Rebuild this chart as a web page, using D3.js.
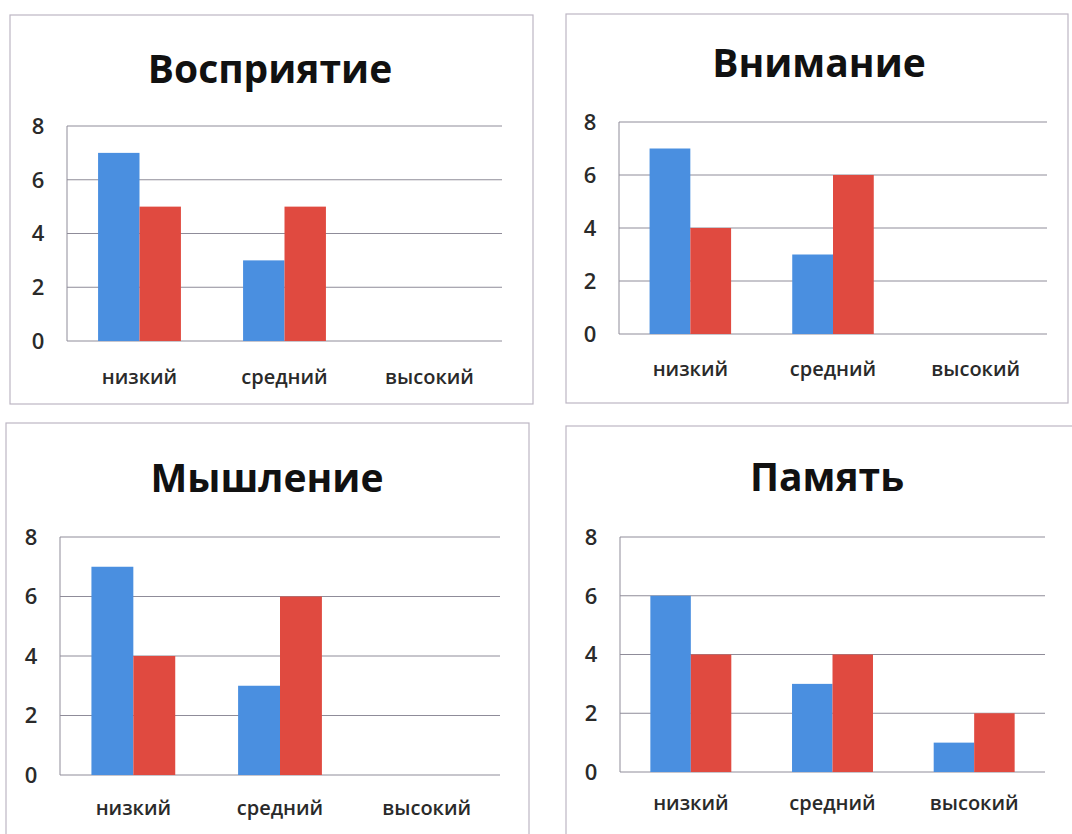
<!DOCTYPE html>
<html>
<head>
    <meta charset="utf-8">
    <title>Уровни</title>
    <style>
        body {
            margin: 0;
            background-color: #fff;
        }
        svg {
            position: absolute;
            left: 0;
            top: 0;
        }
        .frame {
            fill: #fff;
            stroke: #bdb6c4;
            stroke-width: 1.2px;
        }
        .grid line {
            stroke: #8f8c99;
            stroke-width: 1px;
        }
        .axis-y {
            stroke: #8f8c99;
            stroke-width: 1px;
        }
        .title {
            font-family: "Open Sans", sans-serif;
            font-weight: bold;
            font-size: 39px;
            fill: #111;
            text-anchor: middle;
        }
        .tick-label {
            font-family: "Open Sans", sans-serif;
            font-weight: 600;
            font-size: 22px;
            fill: #2a2a2a;
            text-anchor: middle;
            dominant-baseline: middle;
        }
        .cat-label {
            font-family: "Open Sans", sans-serif;
            font-weight: 600;
            font-size: 20px;
            fill: #2a2a2a;
            text-anchor: middle;
        }
    </style>
</head>
<body>
<svg id="charts" width="1072" height="834"></svg>
<script src="https://d3js.org/d3.v7.min.js"></script>
<script>
    // data
    const categories = ["низкий", "средний", "высокий"];
    const titles = ["Восприятие", "Внимание", "Мышление", "Память"];
    const blueValues = [
        [7, 3, 0],
        [7, 3, 0],
        [7, 3, 0],
        [6, 3, 1]
    ];
    const redValues = [
        [5, 5, 0],
        [4, 6, 0],
        [4, 6, 0],
        [4, 4, 2]
    ];
    const yTicks = [0, 2, 4, 6, 8];
    const colors = ["#4a8fe0", "#e04a40"];

    // where each chart sits on the page
    const layout = [
        { box: [10, 15, 523, 389], plot: [67, 502, 126, 341], titleX: 270, titleY: 83, catY: 384 },
        { box: [566, 14, 502, 389], plot: [619, 1047, 122, 334], titleX: 819, titleY: 77, catY: 376 },
        { box: [6, 423, 523, 430], plot: [60, 500, 537, 775], titleX: 267, titleY: 492, catY: 815 },
        { box: [566, 426, 520, 430], plot: [620, 1045, 537, 772], titleX: 827, titleY: 491, catY: 810 }
    ];

    const svg = d3.select('svg#charts');

    titles.forEach((title, i) => {
        const L = layout[i];
        const [px0, px1, py0, py1] = L.plot;
        const g = svg.append('g');

        g.append('rect').attr('class', 'frame')
            .attr('x', L.box[0]).attr('y', L.box[1])
            .attr('width', L.box[2]).attr('height', L.box[3]);

        g.append('text').attr('class', 'title')
            .attr('x', L.titleX).attr('y', L.titleY)
            .text(title);

        const x = d3.scaleBand().domain(categories).range([px0, px1]);
        // excel-like gap of 75% between groups
        const inner = d3.scaleBand().domain([0, 1])
            .range([0, x.bandwidth() / 1.75]);
        const y = d3.scaleLinear().domain([0, 8]).range([py1, py0]);

        g.append('g').attr('class', 'grid')
            .selectAll('line').data(yTicks).join('line')
            .attr('x1', px0).attr('x2', px1)
            .attr('y1', d => y(d)).attr('y2', d => y(d));

        g.append('line').attr('class', 'axis-y')
            .attr('x1', px0).attr('x2', px0)
            .attr('y1', py0).attr('y2', py1);

        g.selectAll('text.tick-label').data(yTicks).join('text')
            .attr('class', 'tick-label')
            .attr('x', px0 - 29).attr('y', d => y(d) + 2)
            .text(d => d);

        const rows = categories.map((c, k) => ({
            cat: c,
            vals: [blueValues[i][k], redValues[i][k]]
        }));
        const groupOffset = (x.bandwidth() - inner.range()[1]) / 2;

        const grp = g.selectAll('g.cat').data(rows).join('g')
            .attr('class', 'cat')
            .attr('transform', d => `translate(${x(d.cat) + groupOffset},0)`);
        grp.selectAll('rect').data(d => d.vals).join('rect')
            .attr('x', (d, s) => inner(s))
            .attr('width', inner.bandwidth())
            .attr('y', d => y(d))
            .attr('height', d => y(0) - y(d))
            .attr('fill', (d, s) => colors[s]);

        g.selectAll('text.cat-label').data(categories).join('text')
            .attr('class', 'cat-label')
            .attr('x', d => x(d) + x.bandwidth() / 2)
            .attr('y', L.catY)
            .text(d => d);
    });
</script>
</body>
</html>
